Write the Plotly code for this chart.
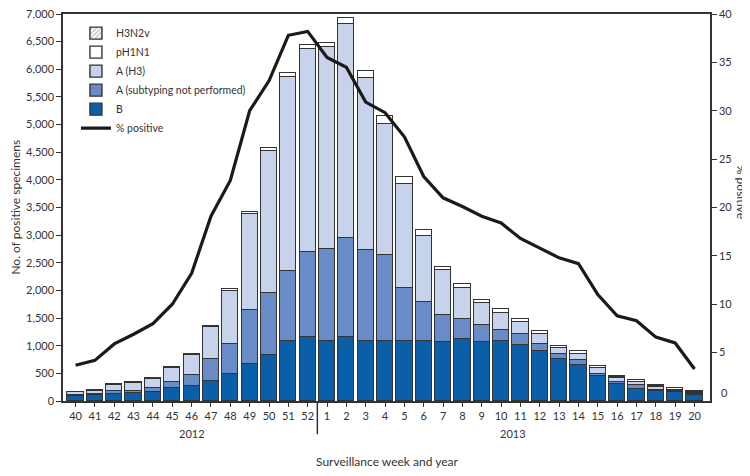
import plotly.graph_objects as go

# surveillance weeks, 2012 week 40 through 2013 week 20
weeks = [40, 41, 42, 43, 44, 45, 46, 47, 48, 49, 50, 51, 52,
         1, 2, 3, 4, 5, 6, 7, 8, 9, 10, 11, 12, 13, 14, 15, 16, 17, 18, 19, 20]

# number of positive specimens by type
b_vals = [82, 100, 125, 143, 155, 233, 263, 364, 496, 669, 824, 1093, 1160,
          1093, 1152, 1093, 1093, 1081, 1081, 1075, 1116, 1075, 1093, 1021, 901,
          752, 645, 456, 310, 221, 179, 155, 107]
a_unsub = [18, 30, 48, 42, 72, 107, 209, 400, 531, 979, 1134, 1253, 1532,
           1653, 1791, 1635, 1540, 961, 716, 483, 371, 298, 197, 197, 138,
           96, 95, 36, 40, 66, 25, 20, 15]
a_h3 = [55, 60, 120, 148, 175, 265, 360, 576, 970, 1737, 2573, 3519, 3675,
        3651, 3884, 3114, 2384, 1888, 1182, 806, 555, 400, 310, 215, 179,
        107, 114, 107, 62, 59, 45, 28, 20]
ph1n1 = [6, 7, 6, 7, 10, 10, 10, 15, 21, 36, 48, 70, 72,
         83, 101, 125, 137, 120, 119, 66, 71, 54, 66, 42, 42,
         42, 47, 30, 30, 25, 30, 25, 25]
h3n2v = [3, 2, 2, 2, 1, 1, 1, 1, 0, 0, 0, 0, 0,
         0, 0, 0, 0, 0, 0, 0, 0, 0, 0, 0, 0,
         0, 0, 8, 10, 5, 5, 5, 8]

# percent of specimens testing positive
pct_pos = [3.7, 4.2, 5.9, 6.9, 8.0, 10.0, 13.2, 19.1, 22.8, 30.0, 33.1, 37.8, 38.2,
           35.5, 34.5, 30.9, 29.8, 27.3, 23.2, 21.0, 20.1, 19.1, 18.4, 16.8, 15.8,
           14.8, 14.2, 11.0, 8.8, 8.3, 6.6, 6.0, 3.3]

x = list(range(len(weeks)))
outline = dict(color="#333333", width=1.4)
bar_w = 0.84

fig = go.Figure()
series = [
    ("B", b_vals, "#0b5ea8", 5),
    ("A (subtyping not performed)", a_unsub, "#6a8cc6", 4),
    ("A (H3)", a_h3, "#c6d3ea", 3),
    ("pH1N1", ph1n1, "#ffffff", 2),
]
for name, vals, col, rank in series:
    fig.add_trace(go.Bar(x=x, y=vals, name=name, width=bar_w, legendrank=rank,
                         marker=dict(color=col, line=outline)))
fig.add_trace(go.Bar(x=x, y=h3n2v, name="H3N2v", width=bar_w, legendrank=1,
                     marker=dict(color="#ffffff", line=outline,
                                 pattern=dict(shape="/", fgcolor="#555555",
                                              bgcolor="#ffffff", size=4, solidity=0.3))))
fig.add_trace(go.Scatter(x=x, y=pct_pos, name="% positive", yaxis="y2", mode="lines",
                         legendrank=6, line=dict(color="#1a1a1a", width=3.2)))

axis_col = "#333333"
tick_font = dict(family="Lato, Open Sans, sans-serif", size=11, color="#333333")

# the page body adds an 8px margin, so the figure is a bit smaller than the window
fig.update_layout(
    width=742, height=468,
    margin=dict(l=55, r=40, t=6, b=75),
    paper_bgcolor="white", plot_bgcolor="white",
    barmode="stack", bargap=0,
    font=tick_font,
    showlegend=True,
    legend=dict(x=0.02, y=0.988, xanchor="left", yanchor="top",
                traceorder="normal", bgcolor="rgba(0,0,0,0)",
                font=dict(family="Lato, Open Sans, sans-serif", size=10.5, color="#333333"),
                itemwidth=30, tracegroupgap=0),
    xaxis=dict(range=[-0.65, 32.8], tickvals=x, ticktext=[str(w) for w in weeks],
               ticks="outside", ticklen=4, tickcolor=axis_col, tickwidth=1,
               showline=True, linecolor=axis_col, linewidth=1.5, mirror=True,
               showgrid=False, zeroline=False, tickfont=tick_font, automargin=False),
    yaxis=dict(range=[0, 7000], tickvals=list(range(0, 7001, 500)), tickformat=",",
               ticks="outside", ticklen=5, tickcolor=axis_col,
               showline=True, linecolor=axis_col, linewidth=1.5,
               showgrid=False, zeroline=False, tickfont=tick_font, automargin=False,
               ticklabeloverflow="allow"),
    yaxis2=dict(range=[0, 40], overlaying="y", side="right",
                tickvals=list(range(5, 41, 5)), ticks="outside", ticklen=5,
                tickcolor=axis_col, showline=True, linecolor=axis_col, linewidth=1.5,
                showgrid=False, zeroline=False, tickfont=tick_font, automargin=False,
                ticklabeloverflow="allow"),
)

# year divider below the axis
fig.add_shape(type="line", xref="x", yref="paper", x0=12.5, x1=12.5, y0=0, y1=-0.086,
              line=dict(color=axis_col, width=1.5))

ann_font = dict(family="Lato, Open Sans, sans-serif", size=12, color="#333333")
fig.add_annotation(x=6, y=-0.084, xref="x", yref="paper", text="2012",
                   xanchor="center", yanchor="middle", showarrow=False, font=tick_font)
fig.add_annotation(x=22.6, y=-0.084, xref="x", yref="paper", text="2013",
                   xanchor="center", yanchor="middle", showarrow=False, font=tick_font)
fig.add_annotation(x=0.5, y=-0.157, xref="paper", yref="paper",
                   text="Surveillance week and year", xanchor="center", yanchor="middle",
                   showarrow=False, font=ann_font)
fig.add_annotation(x=-0.074, y=0.5, xref="paper", yref="paper", textangle=-90,
                   text="No. of positive specimens", xanchor="center", yanchor="middle",
                   showarrow=False, font=ann_font)
fig.add_annotation(x=1.049, y=0.541, xref="paper", yref="paper", textangle=90,
                   text="% positive", xanchor="center", yanchor="middle",
                   showarrow=False, font=ann_font)
# right-axis zero label sits slightly above the corner
fig.add_annotation(x=1, y=0, xref="paper", yref="y2", xanchor="left", yanchor="middle",
                   yshift=9, xshift=9, text="0", showarrow=False, font=tick_font)

fig.write_html("out.html")
